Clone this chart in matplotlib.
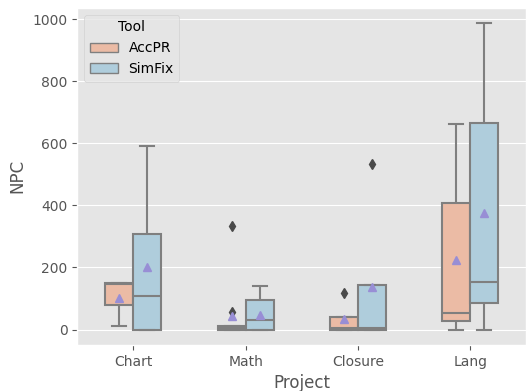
import matplotlib
matplotlib.use("Agg")
import matplotlib.pyplot as plt
import pandas as pd
import seaborn as sns

plt.style.use("ggplot")

projects = ["Chart", "Math", "Closure", "Lang"]
tools = ["AccPR", "SimFix"]

# NPC samples per project / tool
chart_accpr = [10, 10, 80, 80, 148, 148, 150, 150, 150]
chart_simfix = [0, 0, 0, 50, 109, 200, 307, 552, 591]
math_accpr = [0, 0, 0, 0, 4, 6, 12, 12, 57, 335]
math_simfix = [0, 0, 0, 10, 32, 50, 96, 104, 140]
closure_accpr = [0, 0, 6, 42, 118]
closure_simfix = [0, 0, 5, 143, 533]
lang_accpr = [0, 10, 26, 40, 54, 300, 409, 516, 661]
lang_simfix = [0, 40, 86, 120, 153, 500, 664, 843, 987]

samples = {
    ("Chart", "AccPR"): chart_accpr,
    ("Chart", "SimFix"): chart_simfix,
    ("Math", "AccPR"): math_accpr,
    ("Math", "SimFix"): math_simfix,
    ("Closure", "AccPR"): closure_accpr,
    ("Closure", "SimFix"): closure_simfix,
    ("Lang", "AccPR"): lang_accpr,
    ("Lang", "SimFix"): lang_simfix,
}

rows = []
for (proj, tool), vals in samples.items():
    for v in vals:
        rows.append({"Project": proj, "Tool": tool, "NPC": v})
df = pd.DataFrame(rows)

fig, ax = plt.subplots(figsize=(5.29, 3.91), dpi=100)
sns.boxplot(data=df, x="Project", y="NPC", hue="Tool", order=projects,
            hue_order=tools, palette="RdBu", width=0.5, showmeans=True,
            linecolor="#7f7f7f", linewidth=1.5,
            flierprops=dict(marker="d", markersize=5,
                            markerfacecolor="#4a4a4a", markeredgecolor="#4a4a4a"),
            ax=ax)

leg = ax.legend(title="Tool", loc="upper left")
for h in leg.get_patches():
    h.set_linewidth(1.0)
fig.subplots_adjust(left=0.146, right=0.995, top=0.98, bottom=0.118)
fig.savefig("out.png")
